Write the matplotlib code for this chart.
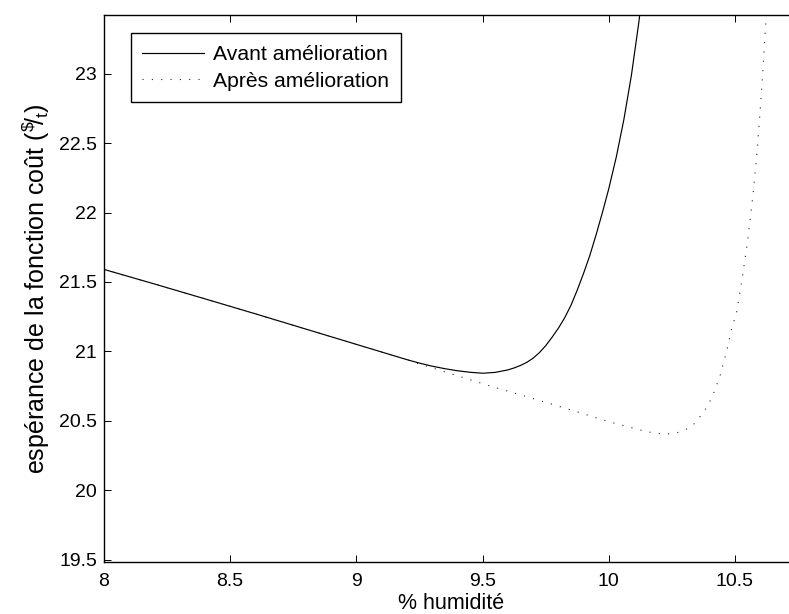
import matplotlib
matplotlib.use('Agg')
import matplotlib.pyplot as plt

plt.rcParams['font.family'] = ['Liberation Sans', 'DejaVu Sans']
plt.rcParams['mathtext.fontset'] = 'custom'
plt.rcParams['mathtext.rm'] = 'Liberation Sans'
plt.rcParams['mathtext.it'] = 'Liberation Sans'

# courbe avant amélioration
x_avant = [8.0, 8.2, 8.4, 8.6, 8.8, 9.0, 9.1, 9.2, 9.25, 9.3, 9.35, 9.4, 9.45,
           9.5, 9.55, 9.6, 9.625, 9.65, 9.675, 9.7, 9.725, 9.75, 9.775, 9.8,
           9.825, 9.85, 9.875, 9.9, 9.925, 9.95, 9.975, 10.0, 10.03, 10.06,
           10.09, 10.12, 10.14]
y_avant = [21.59, 21.485, 21.378, 21.27, 21.16, 21.05, 20.995, 20.94, 20.915,
           20.893, 20.875, 20.86, 20.849, 20.842, 20.848, 20.866, 20.88,
           20.898, 20.92, 20.95, 20.99, 21.04, 21.10, 21.165, 21.24, 21.33,
           21.44, 21.56, 21.69, 21.84, 22.0, 22.17, 22.40, 22.67, 22.99, 23.38,
           23.70]

# courbe après amélioration
x_apres = [8.0, 8.2, 8.4, 8.6, 8.8, 9.0, 9.1, 9.2, 9.24, 9.38, 9.53, 9.71,
           9.86, 10.0, 10.1, 10.15, 10.2, 10.23, 10.26, 10.28, 10.30, 10.32,
           10.335, 10.353, 10.377, 10.397, 10.413, 10.426, 10.44, 10.45,
           10.469, 10.486, 10.507, 10.53, 10.55, 10.57, 10.585, 10.60, 10.61,
           10.62, 10.63]
y_apres = [21.59, 21.485, 21.378, 21.27, 21.16, 21.05, 20.995, 20.94, 20.914,
           20.836, 20.75, 20.654, 20.572, 20.493, 20.445, 20.421, 20.407,
           20.404, 20.41, 20.418, 20.432, 20.45, 20.47, 20.51, 20.565, 20.625,
           20.685, 20.75, 20.817, 20.882, 21.014, 21.153, 21.285, 21.54, 21.79,
           22.10, 22.38, 22.73, 23.0, 23.3, 23.55]

xticks = [8, 8.5, 9, 9.5, 10, 10.5]
yticks = [19.5, 20, 20.5, 21, 21.5, 22, 22.5, 23]

fig = plt.figure(figsize=(7.89, 6.14), dpi=100)
ax = fig.add_axes([104 / 789, 52 / 614, 694 / 789, 547 / 614])

ax.plot(x_avant, y_avant, color='black', lw=0.85, label='Avant amélioration')
ax.plot(x_apres, y_apres, color='0.15', lw=0.8, dashes=(1, 7.4),
        label='Après amélioration')

ax.set_xlim(8, 10.75)
ax.set_ylim(19.482, 23.423)
ax.set_xticks(xticks)
ax.set_xticklabels(['8', '8.5', '9', '9.5', '10', '10.5'])
ax.set_yticks(yticks)
ax.set_yticklabels(['19.5', '20', '20.5', '21', '21.5', '22', '22.5', '23'])
ax.tick_params(direction='in', length=4.8, width=0.7, top=True, right=True,
               labelsize=14)
ax.tick_params(axis='x', pad=8)
ax.tick_params(axis='y', pad=5)
for s in ax.spines.values():
    s.set_linewidth(1.0)

ax.set_xlabel('% humidité', fontsize=15.5, labelpad=2)
ax.set_ylabel(r'espérance de la fonction coût ($^{\$}\!/_{\mathrm{t}}$)',
              fontsize=18, labelpad=5)

leg = ax.legend(loc='upper left', bbox_to_anchor=(0.0385, 0.9665),
                borderaxespad=0, fontsize=15.2, fancybox=False,
                framealpha=1, edgecolor='black', handlelength=2.9,
                handletextpad=0.45, labelspacing=0.36, borderpad=0.55)
leg.get_frame().set_linewidth(1.0)

fig.savefig('out.png', dpi=100)
